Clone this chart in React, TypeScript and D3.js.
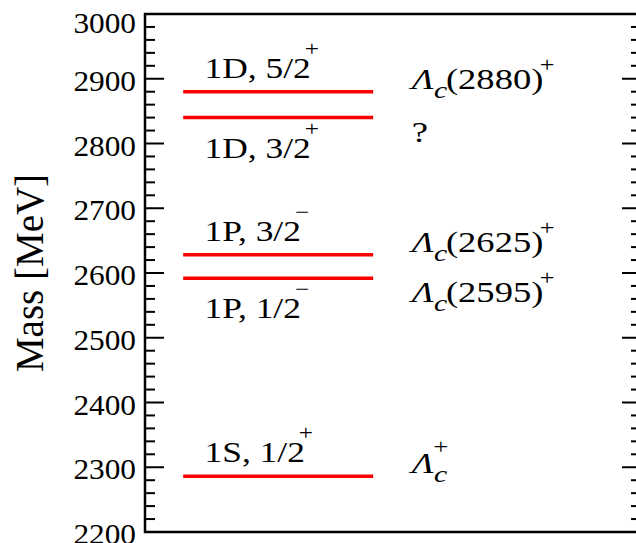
import React, { useRef, useEffect } from 'react';
import * as d3 from 'd3';

// measured masses (MeV) and quantum numbers of the levels
const levels = [2286, 2592, 2628, 2840, 2880];
const waves = ['1S', '1P', '1P', '1D', '1D'];
const spins = ['1/2', '1/2', '3/2', '3/2', '5/2'];
const parities = ['+', '−', '−', '+', '+'];
// experimental assignment: '' = ground state, '?' = unknown
const expNames = ['', '(2595)', '(2625)', '?', '(2880)'];
const yTicks = [2200, 2300, 2400, 2500, 2600, 2700, 2800, 2900, 3000];

const W = 636;
const H = 543;

const App = () => {
  const ref = useRef<SVGSVGElement>(null);

  useEffect(() => {
    const margin = { top: 14, right: -5, bottom: 11, left: 145 };
    const svg = d3.select(ref.current);
    svg.selectAll('*').remove();

    const x = d3.scaleLinear().domain([0, 1]).range([margin.left, W - margin.right]);
    const y = d3.scaleLinear().domain([2200, 3000]).range([H - margin.bottom, margin.top]);
    const font = "'Liberation Serif', 'Times New Roman', serif";

    // the original glyphs are a bit wider than Liberation Serif
    const wideText = (px: number, py: number, sx: number, size: number) =>
      svg.append('g')
        .attr('transform', `translate(${px},${py}) scale(${sx},1)`)
        .append('text')
        .attr('font-family', font).attr('font-size', size);

    // frame
    svg.append('rect')
      .attr('x', x(0)).attr('y', y(3000))
      .attr('width', x(1) - x(0)).attr('height', y(2200) - y(3000))
      .attr('fill', 'none').attr('stroke', '#000').attr('stroke-width', 2.5);

    // ticks on both sides
    const minor = d3.range(2200, 3001, 20).filter(v => v % 100 !== 0);
    const g = svg.append('g').attr('stroke', '#000').attr('stroke-width', 2);
    [[x(0), 1], [x(1), -1]].forEach(([x0, dir]) => {
      g.selectAll(null).data(yTicks).enter().append('line')
        .attr('x1', x0).attr('x2', x0 + dir * 19)
        .attr('y1', d => y(d)).attr('y2', d => y(d));
      g.selectAll(null).data(minor).enter().append('line')
        .attr('x1', x0).attr('x2', x0 + dir * 10)
        .attr('y1', d => y(d)).attr('y2', d => y(d));
    });

    yTicks.forEach(t => {
      wideText(x(0) - 9, Math.max(y(t) + 12, y(3000) + 19), 1.08, 29)
        .attr('text-anchor', 'end')
        .text(t);
    });

    svg.append('text')
      .attr('transform', `translate(43, 273) rotate(-90)`)
      .attr('text-anchor', 'middle')
      .attr('font-family', font).attr('font-size', 39)
      .text('Mass [MeV]');

    // levels
    svg.selectAll('.lvl').data(levels).enter().append('line')
      .attr('x1', x(0.077)).attr('x2', x(0.46))
      .attr('y1', d => y(d)).attr('y2', d => y(d))
      .attr('stroke', '#ff0000').attr('stroke-width', 3.5);

    levels.forEach((m, i) => {
      // a level with a close partner above it gets its label below the line
      const below = levels.some(o => o > m && o - m < 60);
      const yl = y(m);

      const left = wideText(x(0.12), below ? yl + 40 : yl - 14, 1.2, 29.5);
      left.append('tspan').text(`${waves[i]}, ${spins[i]}`);
      left.append('tspan').attr('dx', -5).attr('dy', -22).attr('font-size', 21).text(parities[i]);

      const right = wideText(x(0.538), below ? yl + 24 : yl - 3, 1.24, 29.5);
      const name = expNames[i];
      if (name === '?') {
        right.text('?');
        return;
      }
      right.append('tspan').attr('font-style', 'italic').text('Λ');
      right.append('tspan').attr('font-style', 'italic').attr('font-size', 24).attr('dy', 9).text('c');
      if (name === '') {
        right.append('tspan').attr('font-size', 21).attr('dx', -11).attr('dy', -28).text('+');
      } else {
        right.append('tspan').attr('dx', -1).attr('dy', -9).text(name);
        right.append('tspan').attr('dx', -3).attr('font-size', 21).attr('dy', -17).text('+');
      }
    });
  }, []);

  return (
    <svg ref={ref} width={W} height={H}
      style={{ position: 'absolute', left: 0, top: 0, background: '#fff' }} />
  );
};

export default App;
